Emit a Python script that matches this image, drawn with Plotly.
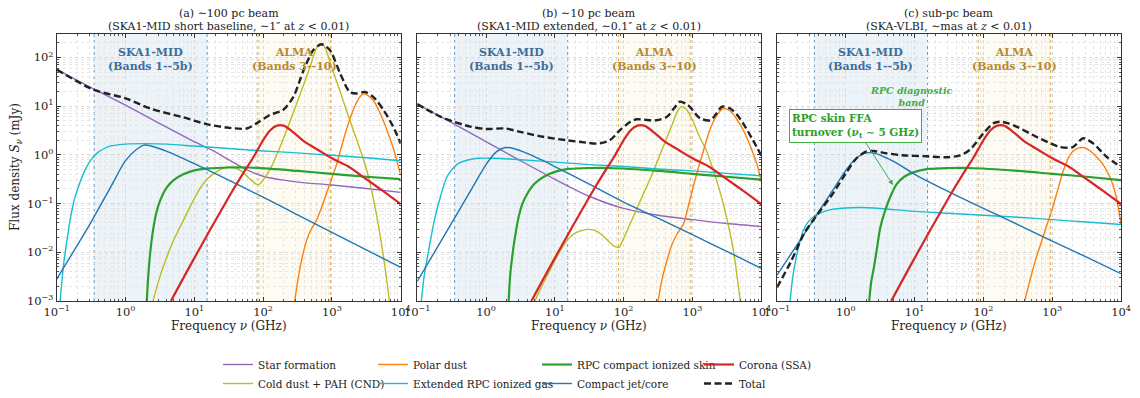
import math
import plotly.graph_objects as go

# ---------------- data (log10 frequency in GHz, log10 flux density in mJy) ----------------
# Panel (a)
a_sf_lgnu = [-1, -0.5, 0, 0.5, 1, 1.25, 1.5, 1.75, 2, 2.25, 2.5, 3, 3.5, 4]
a_sf_lgS = [1.75, 1.38, 1.02, 0.64, 0.27, 0.1, -0.1, -0.3, -0.44, -0.51, -0.56, -0.62, -0.69, -0.77]
a_cd_lgnu = [0.4, 0.5, 0.6, 0.7, 0.84, 1.0, 1.1, 1.2, 1.33, 1.45, 1.52, 1.6, 1.7, 1.8, 1.9, 1.95, 2.0, 2.1, 2.2, 2.3,
             2.4, 2.5, 2.6, 2.7, 2.78, 2.84, 2.9, 3.0, 3.1, 3.2, 3.3, 3.4, 3.5, 3.6, 3.7, 3.8, 3.85]
a_cd_lgS = [-3.0, -2.5, -2.1, -1.75, -1.35, -0.9, -0.65, -0.48, -0.34, -0.26, -0.25, -0.27, -0.35, -0.48, -0.6, -0.6,
            -0.52, -0.3, 0.0, 0.35, 0.72, 1.1, 1.48, 1.88, 2.2, 2.28, 2.2, 1.78, 1.38, 0.96, 0.55, 0.15, -0.28, -0.88,
            -1.65, -2.6, -3.2]
a_po_lgnu = [2.46, 2.52, 2.59, 2.66, 2.72, 2.78, 2.85, 2.92, 3.0, 3.07, 3.14, 3.21, 3.31, 3.4, 3.46, 3.52, 3.6, 3.7, 3.8, 3.9, 4.0]
a_po_lgS = [-3.0, -2.45, -1.97, -1.65, -1.48, -1.33, -1.08, -0.8, -0.48, -0.19, 0.17, 0.51, 0.92, 1.18, 1.25, 1.22, 1.12,
            0.86, 0.51, 0.1, -0.42]
a_ex_lgnu = [-0.95, -0.9, -0.85, -0.8, -0.75, -0.7, -0.6, -0.5, -0.4, -0.25, 0, 0.3, 0.6, 1, 1.5, 2, 2.5, 3, 3.5, 4]
a_ex_lgS = [-3.0, -2.25, -1.75, -1.3, -0.95, -0.72, -0.35, -0.1, 0.05, 0.17, 0.22, 0.23, 0.22, 0.18, 0.13, 0.08, 0.04,
            -0.01, -0.06, -0.12]
a_sk_lgnu = [0.31, 0.33, 0.36, 0.4, 0.45, 0.5, 0.6, 0.7, 0.84, 1.0, 1.2, 1.5, 1.8, 2.5, 3, 3.5, 4]
a_sk_lgS = [-3.0, -2.5, -2.0, -1.55, -1.18, -0.95, -0.67, -0.52, -0.4, -0.32, -0.28, -0.26, -0.26, -0.33, -0.39, -0.45, -0.5]
a_jt_lgnu = [-1, -0.5, -0.2, 0, 0.15, 0.27, 0.4, 0.6, 0.8, 1, 1.5, 2, 2.5, 3, 3.5, 4]
a_jt_lgS = [-2.55, -1.38, -0.62, -0.12, 0.1, 0.2, 0.17, 0.07, -0.05, -0.18, -0.52, -0.87, -1.23, -1.59, -1.95, -2.31]
a_tot_lgnu = [-1, -0.47, 0, 0.36, 0.84, 1.18, 1.47, 1.76, 1.91, 2.1, 2.29, 2.44, 2.59, 2.73, 2.85, 2.97, 3.12, 3.26,
              3.36, 3.48, 3.6, 3.75, 3.89, 4.0]
a_tot_lgS = [1.75, 1.34, 1.16, 0.95, 0.77, 0.63, 0.56, 0.54, 0.65, 0.82, 0.92, 1.19, 1.74, 2.15, 2.27, 2.15, 1.67, 1.29,
             1.26, 1.29, 1.19, 0.92, 0.58, 0.23]

# Corona (SSA) — same in all three panels
co_lgnu = [0.66, 1.0, 1.5, 1.7, 1.85, 2.0, 2.1, 2.2, 2.3, 2.45, 2.6, 2.8, 3.0, 3.25, 3.5, 3.75, 4.0]
co_lgS = [-3.0, -2.12, -0.87, -0.4, -0.07, 0.3, 0.5, 0.6, 0.6, 0.45, 0.27, 0.1, -0.07, -0.25, -0.5, -0.75, -1.01]

# Panel (b)
b_sf_lgnu = [-1, -0.5, 0, 0.5, 1, 1.5, 2, 2.5, 3, 3.5, 4]
b_sf_lgS = [1.04, 0.66, 0.27, -0.12, -0.5, -0.85, -1.1, -1.24, -1.33, -1.41, -1.47]
b_cd_lgnu = [0.71, 0.8, 0.9, 1.0, 1.1, 1.2, 1.3, 1.4, 1.5, 1.6, 1.7, 1.8, 1.87, 1.93, 2.0, 2.1, 2.2, 2.3, 2.4, 2.5,
             2.6, 2.7, 2.78, 2.84, 2.9, 3.0, 3.1, 3.2, 3.3, 3.4, 3.5, 3.6, 3.7]
b_cd_lgS = [-3.0, -2.73, -2.45, -2.17, -1.92, -1.72, -1.6, -1.55, -1.53, -1.56, -1.66, -1.8, -1.88, -1.9, -1.72, -1.4,
            -1.08, -0.76, -0.45, -0.1, 0.25, 0.6, 0.88, 0.99, 0.95, 0.72, 0.38, 0.1, -0.3, -0.75, -1.3, -2.0, -3.05]
b_po_lgnu = [2.5, 2.56, 2.63, 2.7, 2.78, 2.87, 2.95, 3.01, 3.08, 3.16, 3.25, 3.35, 3.45, 3.55, 3.65, 3.75, 3.85, 3.95, 4.0]
b_po_lgS = [-3.0, -2.55, -2.17, -1.85, -1.62, -1.42, -1.0, -0.67, -0.3, 0.08, 0.5, 0.8, 0.95, 0.9, 0.72, 0.48, 0.15,
            -0.25, -0.55]
b_ex_lgnu = [-0.94, -0.9, -0.86, -0.8, -0.74, -0.66, -0.57, -0.47, -0.38, -0.25, -0.1, 0.1, 0.5, 1.0, 1.5, 2, 2.5, 3, 3.5, 4]
b_ex_lgS = [-3.0, -2.5, -2.17, -1.7, -1.28, -0.85, -0.46, -0.26, -0.16, -0.1, -0.07, -0.07, -0.1, -0.15, -0.2, -0.24,
            -0.29, -0.33, -0.38, -0.43]
b_sk_lgnu = [0.33, 0.35, 0.38, 0.42, 0.47, 0.53, 0.6, 0.7, 0.84, 1.0, 1.2, 1.5, 1.8, 2.5, 3, 3.5, 4]
b_sk_lgS = [-3.0, -2.5, -2.1, -1.7, -1.3, -1.0, -0.8, -0.6, -0.45, -0.35, -0.29, -0.27, -0.27, -0.33, -0.39, -0.45, -0.51]
b_jt_lgnu = [-1, -0.5, -0.2, 0, 0.15, 0.28, 0.4, 0.6, 0.8, 1, 1.5, 2, 2.5, 3, 3.5, 4]
b_jt_lgS = [-2.6, -1.4, -0.68, -0.2, 0.06, 0.15, 0.13, 0.03, -0.1, -0.24, -0.6, -0.97, -1.3, -1.64, -1.98, -2.33]
b_tot_lgnu = [-1, -0.67, -0.47, -0.23, 0, 0.28, 0.5, 0.83, 1.17, 1.46, 1.61, 1.8, 1.95, 2.1, 2.19, 2.3, 2.48, 2.63,
              2.73, 2.82, 2.9, 2.96, 3.11, 3.26, 3.35, 3.43, 3.55, 3.65, 3.74, 3.88, 4.0]
b_tot_lgS = [1.04, 0.79, 0.68, 0.58, 0.53, 0.54, 0.47, 0.37, 0.3, 0.25, 0.23, 0.3, 0.51, 0.68, 0.73, 0.72, 0.71, 0.78,
             0.95, 1.09, 1.05, 0.99, 0.75, 0.71, 0.85, 0.99, 0.95, 0.82, 0.64, 0.3, -0.01]

# Panel (c)
c_po_lgnu = [2.6, 2.7, 2.77, 2.85, 2.92, 3.0, 3.08, 3.16, 3.26, 3.35, 3.45, 3.55, 3.65, 3.74, 3.82, 3.89, 3.95, 4.0]
c_po_lgS = [-3.0, -2.45, -2.1, -1.76, -1.45, -1.11, -0.72, -0.33, 0.0, 0.12, 0.15, 0.08, -0.05, -0.2, -0.4, -0.65, -1.0, -1.42]
c_ex_lgnu = [-0.81, -0.77, -0.72, -0.67, -0.62, -0.55, -0.45, -0.35, -0.2, 0, 0.2, 0.5, 1, 1.5, 2, 2.5, 3, 3.5, 4]
c_ex_lgS = [-3.0, -2.5, -2.1, -1.8, -1.56, -1.38, -1.25, -1.18, -1.12, -1.09, -1.08, -1.1, -1.16, -1.2, -1.24, -1.28,
            -1.33, -1.38, -1.43]
c_sk_lgnu = [0.34, 0.37, 0.41, 0.45, 0.5, 0.57, 0.65, 0.74, 0.85, 0.98, 1.2, 1.5, 1.8, 2.5, 3, 3.5, 4]
c_sk_lgS = [-3.0, -2.6, -2.3, -1.95, -1.5, -1.15, -0.85, -0.6, -0.45, -0.36, -0.29, -0.27, -0.27, -0.33, -0.39, -0.45, -0.52]
c_jt_lgnu = [-1, -0.5, -0.2, 0, 0.15, 0.3, 0.45, 0.6, 0.8, 1, 1.5, 2, 2.5, 3, 3.5, 4]
c_jt_lgS = [-2.47, -1.4, -0.75, -0.32, -0.07, 0.04, 0.02, -0.07, -0.22, -0.4, -0.76, -1.1, -1.43, -1.77, -2.1, -2.44]
c_tot_lgnu = [-1, -0.8, -0.6, -0.4, -0.2, 0, 0.15, 0.3, 0.4, 0.6, 0.83, 1.17, 1.46, 1.66, 1.8, 2.0, 2.15, 2.24, 2.35,
              2.48, 2.77, 3.0, 3.11, 3.3, 3.45, 3.6, 3.79, 4.0]
c_tot_lgS = [-2.72, -2.2, -1.6, -1.2, -0.82, -0.38, -0.08, 0.07, 0.08, 0.03, -0.01, -0.03, -0.05, -0.01, 0.1, 0.44, 0.65,
             0.68, 0.65, 0.58, 0.37, 0.22, 0.16, 0.16, 0.34, 0.23, -0.04, -0.25]

# Bands (GHz)
ska_band = [0.35, 15.4]
alma_band = [84.0, 950.0]

title_line1 = ["(a) ∼100 pc beam", "(b) ∼10 pc beam", "(c) sub-pc beam"]
title_line2 = [
    "(SKA1-MID short baseline, ∼1″ at <i>z</i> &lt; 0.01)",
    "(SKA1-MID extended, ∼0.1″ at <i>z</i> &lt; 0.01)",
    "(SKA-VLBI, ∼mas at <i>z</i> &lt; 0.01)",
]

x_tick_vals = [0.1, 1, 10, 100, 1000, 10000]
x_tick_text = ["10<sup>−1</sup>", "10<sup>0</sup>", "10<sup>1</sup>", "10<sup>2</sup>", "10<sup>3</sup>", "10<sup>4</sup>"]
y_tick_vals = [1e-3, 1e-2, 1e-1, 1, 10, 100]
y_tick_text = ["10<sup>−3</sup>", "10<sup>−2</sup>", "10<sup>−1</sup>", "10<sup>0</sup>", "10<sup>1</sup>", "10<sup>2</sup>"]

# ---------------- styling ----------------
FONT = "DejaVu Serif"
W, H = 1140, 398
OFF = 8.0  # page body margin offset (screen px = figure px + OFF)


def fx(px):  # screen px -> paper fraction (x)
    return (px - OFF) / W


def fy(py):  # screen px -> paper fraction (y)
    return 1 - (py - OFF) / H


styles = {
    "sf": dict(name="Star formation", color="#9467bd", width=1.4),
    "cd": dict(name="Cold dust + PAH (CND)", color="#bcbd22", width=1.4),
    "po": dict(name="Polar dust", color="#ff7f0e", width=1.4),
    "ex": dict(name="Extended RPC ionized gas", color="#17becf", width=1.4),
    "sk": dict(name="RPC compact ionized skin", color="#2ca02c", width=2.2),
    "jt": dict(name="Compact jet/core", color="#1f77b4", width=1.4),
    "co": dict(name="Corona (SSA)", color="#d62728", width=2.2),
    "tot": dict(name="Total", color="#222222", width=2.4),
}
legend_of = {"sf": "legend", "cd": "legend", "po": "legend2", "ex": "legend2",
             "sk": "legend3", "jt": "legend3", "co": "legend4", "tot": "legend4"}

panels = [
    {"sf": (a_sf_lgnu, a_sf_lgS), "cd": (a_cd_lgnu, a_cd_lgS), "po": (a_po_lgnu, a_po_lgS),
     "ex": (a_ex_lgnu, a_ex_lgS), "sk": (a_sk_lgnu, a_sk_lgS), "jt": (a_jt_lgnu, a_jt_lgS),
     "co": (co_lgnu, co_lgS), "tot": (a_tot_lgnu, a_tot_lgS)},
    {"sf": (b_sf_lgnu, b_sf_lgS), "cd": (b_cd_lgnu, b_cd_lgS), "po": (b_po_lgnu, b_po_lgS),
     "ex": (b_ex_lgnu, b_ex_lgS), "sk": (b_sk_lgnu, b_sk_lgS), "jt": (b_jt_lgnu, b_jt_lgS),
     "co": (co_lgnu, co_lgS), "tot": (b_tot_lgnu, b_tot_lgS)},
    {"po": (c_po_lgnu, c_po_lgS), "ex": (c_ex_lgnu, c_ex_lgS), "sk": (c_sk_lgnu, c_sk_lgS),
     "jt": (c_jt_lgnu, c_jt_lgS), "co": (co_lgnu, co_lgS), "tot": (c_tot_lgnu, c_tot_lgS)},
]
order = ["sf", "cd", "po", "ex", "sk", "jt", "co", "tot"]

# screen-pixel layout of the three plot areas
x_px = [(56.7, 400.7), (417.2, 761.2), (777.0, 1121.0)]
y_top, y_bot = 34.0, 301.0

fig = go.Figure()
layout = dict(
    width=W, height=H, margin=dict(l=0, r=0, t=0, b=0, autoexpand=False),
    paper_bgcolor="white", plot_bgcolor="white",
    font=dict(family=FONT, size=11, color="#222"),
    showlegend=True,
)

axis_common = dict(
    type="log", showline=True, linecolor="#333", linewidth=1, mirror="allticks",
    ticks="inside", ticklen=4, tickwidth=0.8, tickcolor="#333",
    showgrid=True, gridcolor="#d8d8d8", griddash="dot", gridwidth=0.7,
    zeroline=False, automargin=False,
    tickfont=dict(family=FONT, size=11.5, color="#222"),
    minor=dict(dtick="D1", ticks="inside", ticklen=2, tickcolor="#555", showgrid=True,
               gridcolor="#e6e6e6", griddash="dot", gridwidth=0.6),
)

shapes = []
annotations = []
for i, pdata in enumerate(panels):
    sfx = "" if i == 0 else str(i + 1)
    xa, ya = "x" + sfx, "y" + sfx
    x0p, x1p = x_px[i]
    layout["xaxis" + sfx] = dict(axis_common, domain=[fx(x0p), fx(x1p)], anchor=ya, range=[-1, 4],
                                 tickvals=x_tick_vals, ticktext=x_tick_text)
    layout["yaxis" + sfx] = dict(axis_common, domain=[fy(y_bot), fy(y_top)], anchor=xa, range=[-3, 2.48],
                                 tickvals=y_tick_vals, ticktext=y_tick_text, showticklabels=(i == 0))

    # observing bands
    for band, fill, edge in [(ska_band, "rgba(168,207,226,0.22)", "#5b8db8"),
                             (alma_band, "rgba(250,238,190,0.2)", "#d9a441")]:
        shapes.append(dict(type="rect", xref=xa, yref=ya + " domain", x0=band[0], x1=band[1], y0=0, y1=1,
                           fillcolor=fill, line=dict(width=0), layer="below"))
        for e in band:
            shapes.append(dict(type="line", xref=xa, yref=ya + " domain", x0=e, x1=e, y0=0, y1=1,
                               line=dict(color=edge, width=0.9, dash="dot"), layer="below"))

    for key in order:
        if key not in pdata:
            continue
        lgnu, lgS = pdata[key]
        st = styles[key]
        fig.add_trace(go.Scatter(
            x=[10 ** v for v in lgnu], y=[10 ** v for v in lgS], mode="lines", name=st["name"],
            xaxis=xa, yaxis=ya,
            line=dict(color=st["color"], width=st["width"], shape="spline", smoothing=0.8,
                      dash=("7px,3.5px" if key == "tot" else "solid")),
            showlegend=(i == 0), legend=legend_of[key],
        ))

    xc = fx((x0p + x1p) / 2)
    annotations.append(dict(text=title_line1[i], xref="paper", yref="paper", x=xc, y=fy(14),
                            xanchor="center", yanchor="middle", showarrow=False,
                            font=dict(family=FONT, size=11, color="#222")))
    annotations.append(dict(text=title_line2[i], xref="paper", yref="paper", x=xc, y=fy(26.5),
                            xanchor="center", yanchor="middle", showarrow=False,
                            font=dict(family=FONT, size=11, color="#222")))
    annotations.append(dict(text="Frequency <i>ν</i> (GHz)", xref="paper", yref="paper", x=xc, y=fy(326),
                            xanchor="center", yanchor="middle", showarrow=False,
                            font=dict(family=FONT, size=12, color="#222")))
    # band labels
    ska_mid = (math.log10(ska_band[0]) + math.log10(ska_band[1])) / 2
    alma_mid = (math.log10(alma_band[0]) + math.log10(alma_band[1])) / 2
    annotations.append(dict(text="<b>SKA1-MID</b><br><b>(Bands 1--5b)</b>", xref=xa, yref=ya, x=ska_mid, y=1.95,
                            xanchor="center", yanchor="middle", showarrow=False,
                            font=dict(family=FONT, size=11, color="#3f6e9c")))
    annotations.append(dict(text="<b>ALMA</b><br><b>(Bands 3--10)</b>", xref=xa, yref=ya, x=alma_mid, y=1.95,
                            xanchor="center", yanchor="middle", showarrow=False,
                            font=dict(family=FONT, size=11, color="#b88a2e")))

annotations.append(dict(text="Flux density <i>S</i><sub><i>ν</i></sub> (mJy)", xref="paper", yref="paper",
                        x=fx(16), y=fy(167), textangle=-90, xanchor="center", yanchor="middle",
                        showarrow=False, font=dict(family=FONT, size=12, color="#222")))
# panel (c) annotations
annotations.append(dict(text="<b><i>RPC diagnostic</i></b><br><b><i>band</i></b>", xref="x3", yref="y3",
                        x=0.96, y=1.2, xanchor="center", yanchor="middle", showarrow=False,
                        font=dict(family=FONT, size=9.5, color="#43ad43")))
annotations.append(dict(text="<b>RPC skin FFA</b><br><b>turnover (<i>ν</i><sub>t</sub> ∼ 5 GHz)</b>",
                        xref="x3", yref="y3", x=0.686, y=-0.62, ax=-38, ay=-59, axref="pixel", ayref="pixel",
                        align="left", showarrow=True, arrowhead=2, arrowsize=1, arrowwidth=1,
                        arrowcolor="#43ad43", bgcolor="white", bordercolor="#43ad43", borderwidth=1, borderpad=2,
                        font=dict(family=FONT, size=10.5, color="#2ca02c")))

leg_common = dict(orientation="v", yanchor="top", xanchor="left", y=fy(350), bgcolor="rgba(0,0,0,0)",
                  font=dict(family=FONT, size=10.5, color="#222"), tracegroupgap=0, itemwidth=30)
layout["legend"] = dict(leg_common, x=fx(218))
layout["legend2"] = dict(leg_common, x=fx(373))
layout["legend3"] = dict(leg_common, x=fx(537))
layout["legend4"] = dict(leg_common, x=fx(699))
layout["shapes"] = shapes
layout["annotations"] = annotations
fig.update_layout(**layout)

fig.write_html("out.html")
